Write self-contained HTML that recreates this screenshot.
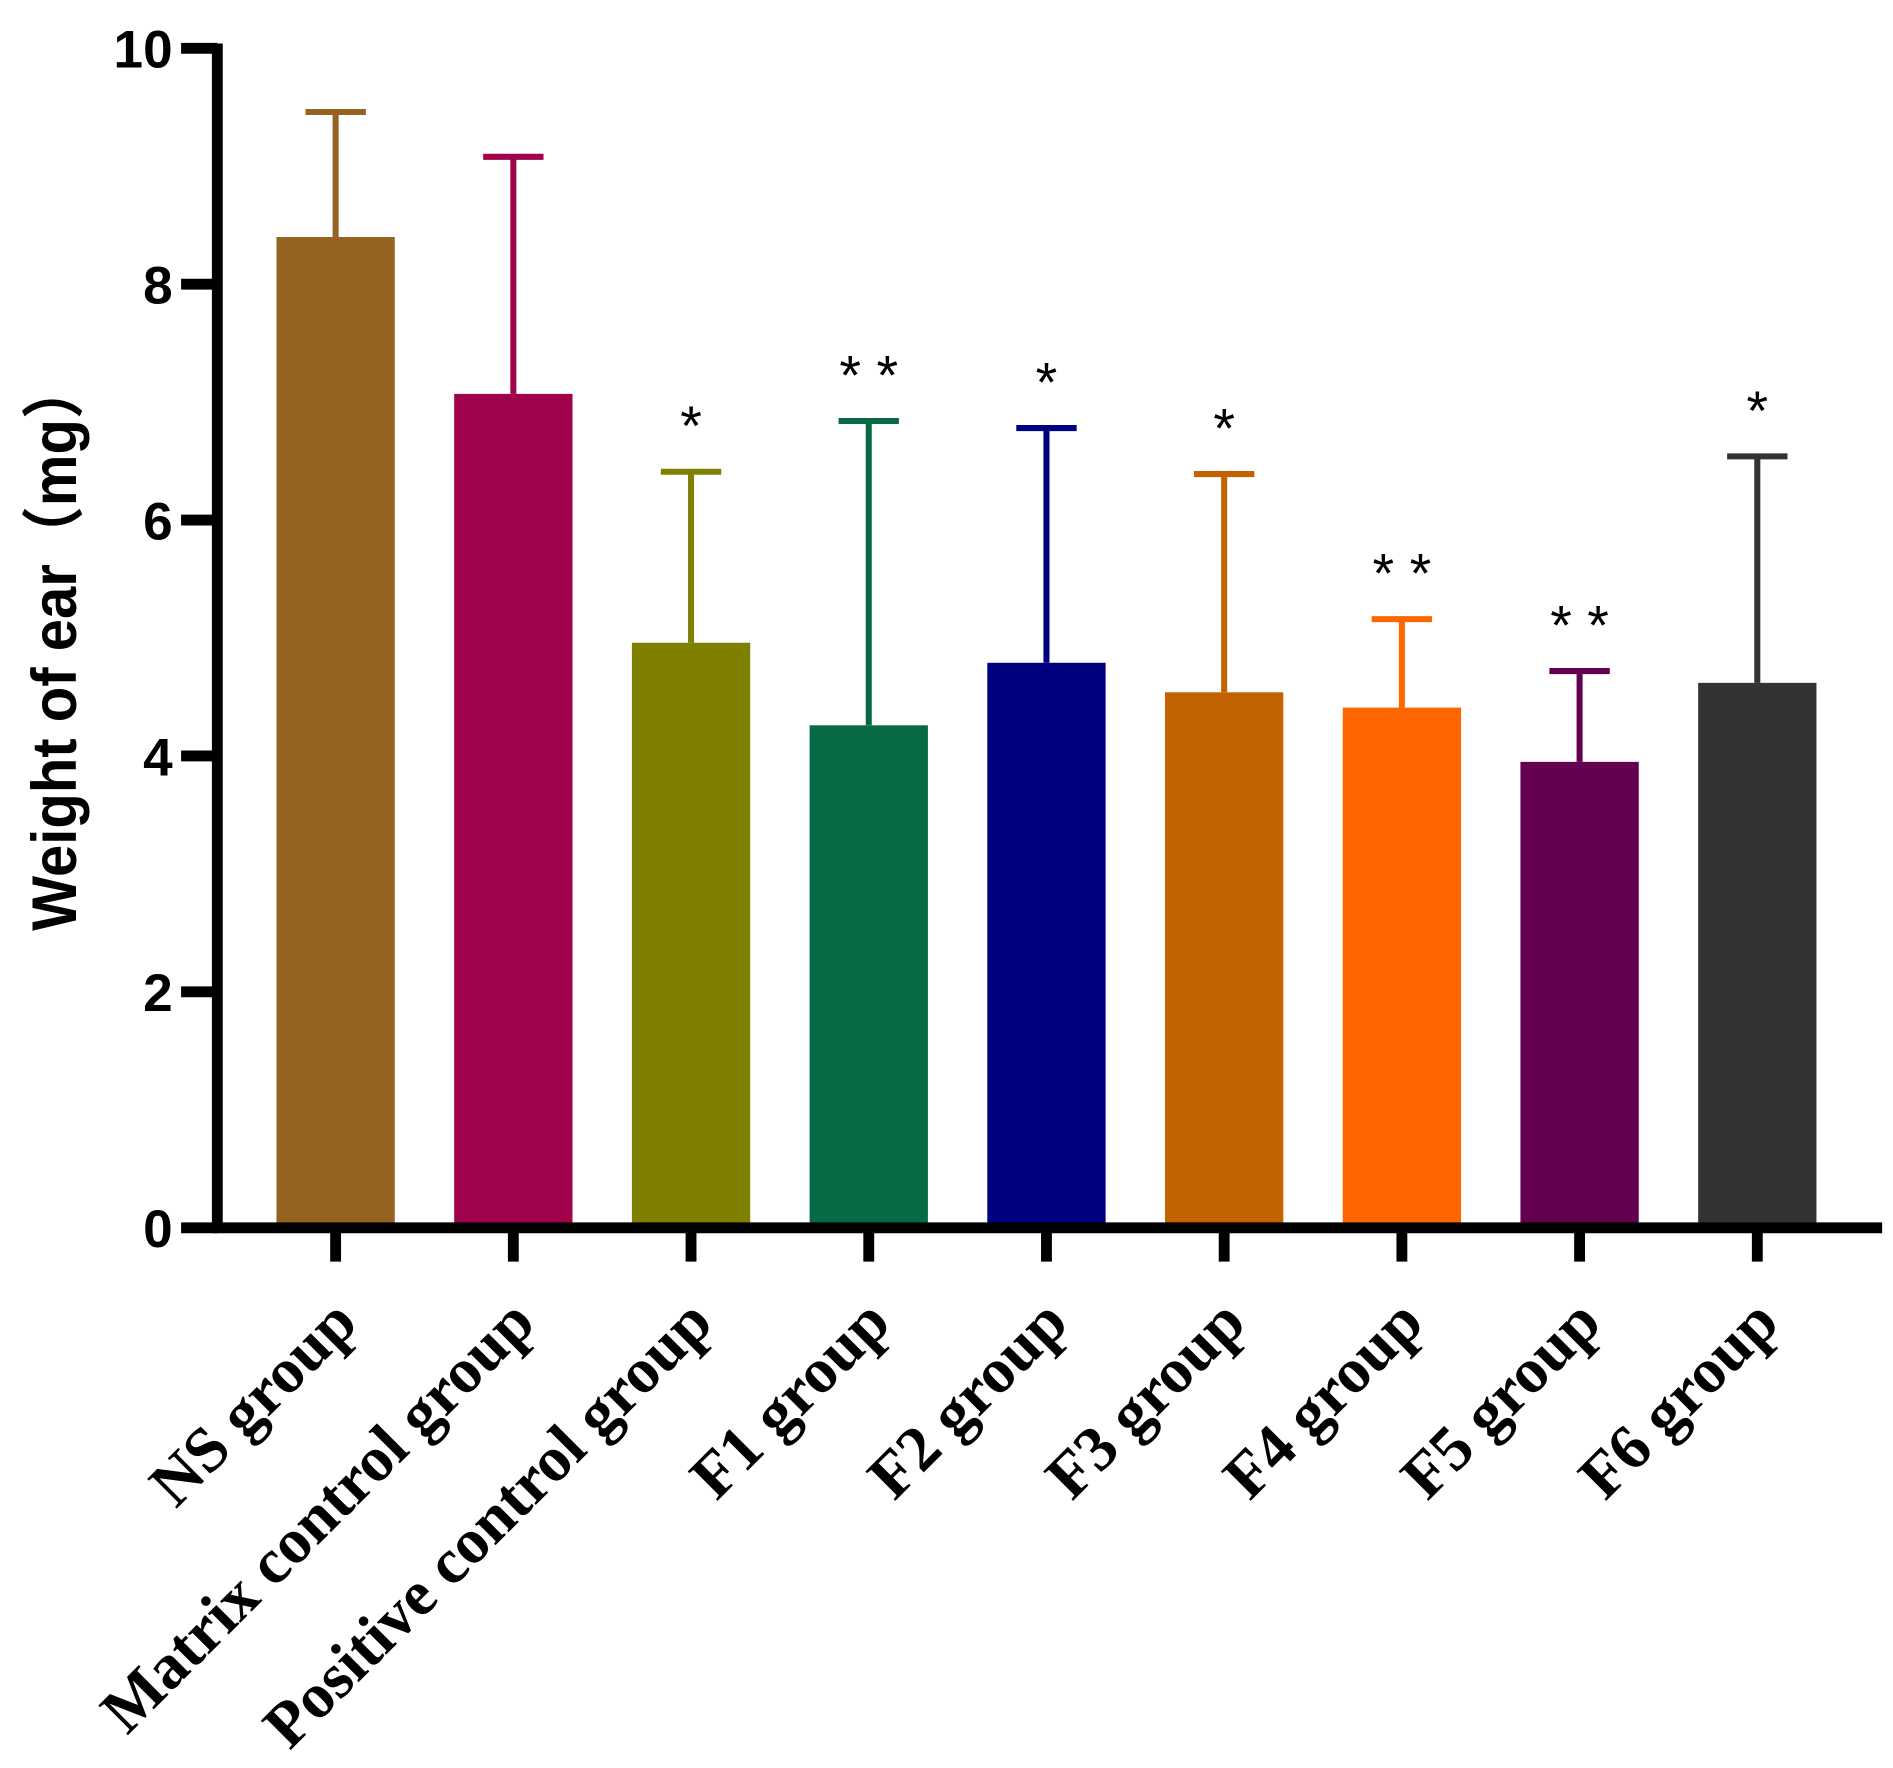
<!DOCTYPE html>
<html><head><meta charset="utf-8"><style>html,body{margin:0;padding:0;background:#fff}svg{display:block}</style></head>
<body>
<svg id="chart" width="1893" height="1768" viewBox="0 0 1568 1464.5" preserveAspectRatio="none" xmlns="http://www.w3.org/2000/svg">
<g id="g"></g>
</svg>
<script>
const categories = ["NS group","Matrix control group","Positive control group","F1 group","F2 group","F3 group","F4 group","F5 group","F6 group"];
const means = [8.40, 7.07, 4.96, 4.26, 4.79, 4.54, 4.41, 3.95, 4.62];
const upperErr = [9.46, 9.08, 6.41, 6.84, 6.78, 6.39, 5.16, 4.72, 6.54];
const stars = ["", "", "*", "* *", "*", "*", "* *", "* *", "*"];
const colors = ["#946320","#A0034B","#808000","#086A45","#000080","#C36200","#FF6600","#63004F","#333333"];
const yTicks = [0, 2, 4, 6, 8, 10];

const NS = "http://www.w3.org/2000/svg";
const g = document.getElementById('g');
const x0 = 180, yBase = 1017, yTop = 40, yMax = 10;
const y = v => yBase - (v / yMax) * (yBase - yTop);
const step = 147.2, first = 278;
const xc = i => first + i * step;
const barW = 98;
function mk(tag, attrs) { const e = document.createElementNS(NS, tag); for (const k in attrs) e.setAttribute(k, attrs[k]); g.appendChild(e); return e; }

categories.forEach((c, i) => {
  const cx = xc(i);
  const r = mk('rect', {x: cx - barW/2, y: y(means[i]), width: barW, height: yBase - y(means[i]), fill: colors[i]});
  
  
  const l = mk('line', {x1: cx, x2: cx, y1: y(means[i]), y2: y(upperErr[i]), stroke: colors[i], 'stroke-width': 5});
  
  
  const cap = mk('line', {x1: cx - 25, x2: cx + 25, y1: y(upperErr[i]), y2: y(upperErr[i]), stroke: colors[i], 'stroke-width': 5});
  
  
  if (stars[i]) {
    const s = mk('text', {x: cx, y: y(upperErr[i]) - 22, 'text-anchor': 'middle', 'font-family': 'Liberation Sans, sans-serif', 'font-size': 46, fill: '#000'});
    s.textContent = stars[i];
    
    
  }
  const t = mk('line', {x1: cx, x2: cx, y1: yBase, y2: 1045, stroke: '#000', 'stroke-width': 9});
  
  
  const ax = cx + 20, ay = 1098;
  const lab = mk('text', {x: ax, y: ay, 'text-anchor': 'end', transform: `rotate(-45 ${ax} ${ay})`, 'font-family': 'Liberation Serif, serif', 'font-weight': 'bold', 'font-size': 53, fill: '#000'});
  lab.textContent = c;
  
  
});

yTicks.forEach(v => {
  const t = mk('line', {x1: 150, x2: x0, y1: y(v), y2: y(v), stroke: '#000', 'stroke-width': 9});
  
  
  const lab = mk('text', {x: 143, y: y(v) + 16, 'text-anchor': 'end', 'font-family': 'Liberation Sans, sans-serif', 'font-weight': 'bold', 'font-size': 44, fill: '#000'});
  lab.textContent = v;
  
  
});

const ya = mk('line', {x1: x0, x2: x0, y1: yTop - 4, y2: yBase + 4, stroke: '#000', 'stroke-width': 9});


const xa = mk('line', {x1: x0 - 4, x2: 1559, y1: yBase, y2: yBase, stroke: '#000', 'stroke-width': 9});



const yt = mk('text', {x: 0, y: 0, 'text-anchor': 'middle', transform: 'translate(63 535) rotate(-90)', 'font-family': 'Liberation Sans, "Noto Sans CJK SC", sans-serif', 'font-weight': 'bold', 'font-size': 52, textLength: 472, lengthAdjust: 'spacingAndGlyphs', fill: '#000'});
yt.textContent = 'Weight of ear（mg）';


</script>
</body></html>
